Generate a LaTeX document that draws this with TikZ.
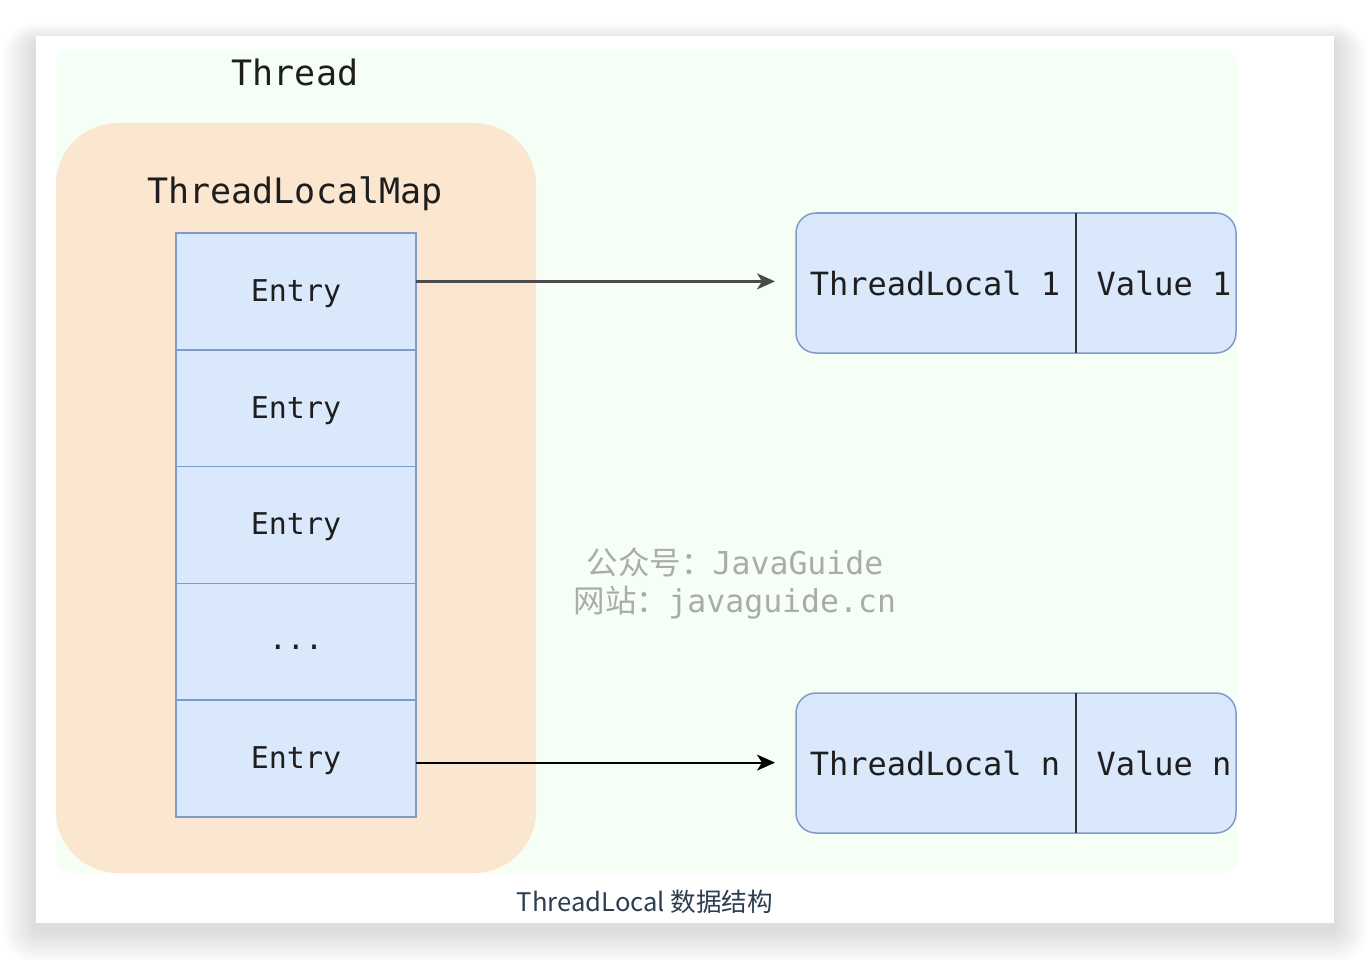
\documentclass[tikz,border=0pt]{standalone}
\usepackage{fontspec}
\setmonofont{DejaVu Sans Mono}
\newfontfamily\cjk{Noto Sans CJK SC}
\usetikzlibrary{arrows.meta,positioning}

\definecolor{threadbg}{HTML}{F5FFF5}
\definecolor{mapbg}{HTML}{FBE6D0}
\definecolor{cellfill}{HTML}{DAE8FC}
\definecolor{cellline}{HTML}{7F9BCB}
\definecolor{inktext}{HTML}{1E1E1E}
\definecolor{markgray}{HTML}{ABABAB}
\definecolor{captionink}{HTML}{2C3E50}

% lowers cell text without changing the size of its box
\newcommand{\celltext}[2]{\raisebox{-#1}[\height][\depth]{#2}}

\tikzset{
  labelfont/.style={font=\ttfamily\fontsize{35}{40}\selectfont, text=inktext},
  entrycell/.style={draw=cellline, line width=1.5pt, fill=cellfill,
    minimum width=240pt, minimum height=116.8pt, inner sep=0pt, outer sep=0pt,
    font=\ttfamily\fontsize{30}{36}\selectfont, text=inktext},
  pairbox/.style={draw=cellline, line width=1.5pt, fill=cellfill,
    rounded corners=20pt, minimum width=440pt, minimum height=140pt,
    inner sep=0pt, outer sep=0pt},
  pairtext/.style={font=\ttfamily\fontsize{32}{38}\selectfont, text=inktext},
  divider/.style={draw=black!80, line width=2pt},
  link/.style={line width=2.2pt, -{Stealth[length=18pt,width=16pt,inset=5pt]}, shorten >=21pt},
  watermark/.style={text=markgray, align=center, inner sep=0pt}
}

\begin{document}
\begin{tikzpicture}[x=1pt,y=-1pt]
  \useasboundingbox (0,0) rectangle (1370,960);
  \fill[white] (0,0) rectangle (1370,960);

  % soft shadow under the card
  \foreach \i in {1,...,34}
    \fill[black, opacity=0.0048, rounded corners=\i pt]
      (36-\i, 36-0.6*\i+7) rectangle (1334+\i, 923+\i+7);

  % card
  \fill[white] (36,36) rectangle (1334,923);

  % thread area and its map
  \fill[threadbg, rounded corners=12pt] (56,50) rectangle (1237,873);
  \fill[mapbg, rounded corners=62pt] (56,123) rectangle (536,873);

  \node[labelfont] (thread) at (295,72) {Thread};
  \node[labelfont] (map) at (295,194) {ThreadLocalMap};

  % entry table
  \node[entrycell] (e1) at (296,291.4) {\celltext{2pt}{Entry}};
  \node[entrycell, below=0pt of e1] (e2) {\celltext{2pt}{Entry}};
  \node[entrycell, below=0pt of e2] (e3) {\celltext{2pt}{Entry}};
  \node[entrycell, below=0pt of e3] (e4) {\celltext{5pt}{...}};
  \node[entrycell, below=0pt of e4] (e5) {\celltext{2pt}{Entry}};

  % ThreadLocal / value pairs
  \node[pairbox] (p1) at (1016,283) {};
  \draw[divider] ([xshift=280pt]p1.north west) -- ([xshift=280pt]p1.south west);
  \node[pairtext] (k1) at (935,283) {ThreadLocal 1};
  \node[pairtext] (v1) at (1164,283) {Value 1};

  \node[pairbox] (pn) at (1016,763) {};
  \draw[divider] ([xshift=280pt]pn.north west) -- ([xshift=280pt]pn.south west);
  \node[pairtext] (kn) at (935,763) {ThreadLocal n};
  \node[pairtext] (vn) at (1164,763) {Value n};

  % references from entries to pairs
  \coordinate (a1) at ([yshift=10pt]e1.east);
  \coordinate (an) at ([yshift=-4pt]e5.east);
  \draw[link, draw=black!70, fill=black] (a1) -- (a1 -| p1.west);
  \draw[link, draw=black] (an) -- (an -| pn.west);

  % watermark
  \node[watermark] (wm1) at (735,562)
    {\fontsize{31.5}{36}\selectfont{\cjk 公众号：}\ttfamily JavaGuide};
  \node[watermark] (wm2) at (735,603)
    {\fontsize{31.5}{36}\selectfont{\cjk 网站：}\ttfamily javaguide.cn};

  % caption
  \node[text=captionink, font=\cjk\fontsize{25.6}{30}\selectfont] (caption) at (645,902)
    {ThreadLocal 数据结构};
\end{tikzpicture}
\end{document}
